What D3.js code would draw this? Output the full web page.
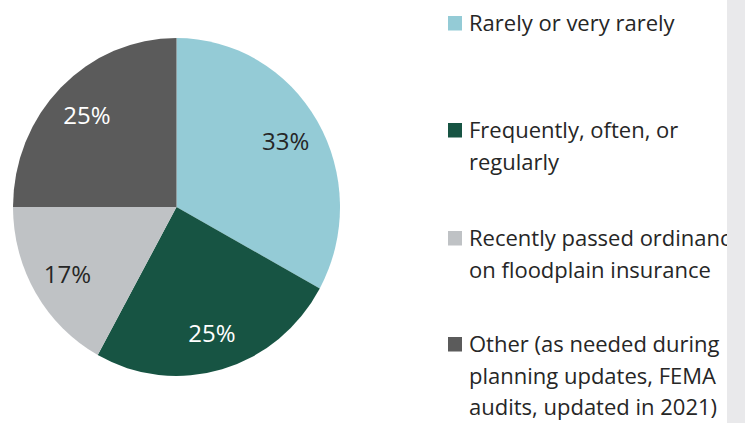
<!DOCTYPE html>
<html>
<head>
<meta charset="utf-8">
<script src="https://cdn.jsdelivr.net/npm/d3@7/dist/d3.min.js"></script>
<style>
  html, body { margin: 0; padding: 0; background: #fff; }
  svg { display: block; }
  text { font-family: "Open Sans", sans-serif; }
</style>
</head>
<body>
<svg id="chart" width="745" height="423"></svg>
<script>
// Survey responses: how often the floodplain ordinance is reviewed
const categories = [
  ["Rarely or very rarely"],
  ["Frequently, often, or", "regularly"],
  ["Recently passed ordinance", "on floodplain insurance"],
  ["Other (as needed during", "planning updates, FEMA", "audits, updated in 2021)"]
];
const shares = [33, 25, 17, 25];
const colors = ["#94cbd6", "#175443", "#bfc2c5", "#5b5b5b"];
const labelColors = ["#262626", "#ffffff", "#262626", "#ffffff"];

const svg = d3.select("#chart");
const W = 745, H = 423;

// Pie geometry (drawn slightly narrower than tall)
const cx = 176.5, cy = 207, R = 169, sx = 163.5 / 169;

const pie = d3.pie().sort(null).value(d => d);
const arcs = pie(shares);
const arc = d3.arc().innerRadius(0).outerRadius(R);
const labelArc = d3.arc().innerRadius(131).outerRadius(131);

const pieG = svg.append("g")
  .attr("transform", `translate(${cx},${cy}) scale(${sx},1)`);

pieG.selectAll("path")
  .data(arcs)
  .join("path")
  .attr("d", arc)
  .attr("fill", (d, i) => colors[i]);

// Percent labels (unscaled text, positioned on scaled centroids)
svg.append("g").selectAll("text")
  .data(arcs)
  .join("text")
  .attr("x", d => cx + labelArc.centroid(d)[0] * sx)
  .attr("y", d => cy + labelArc.centroid(d)[1])
  .attr("text-anchor", "middle")
  .attr("dominant-baseline", "central")
  .attr("font-size", 24)
  .attr("fill", (d, i) => labelColors[i])
  .text(d => d.data + "%");

// Legend
const legendTops = [31, 138, 246, 352];
const lineH = 31.5;
const legend = svg.append("g");
categories.forEach((lines, i) => {
  const base = legendTops[i];
  legend.append("rect")
    .attr("x", 448).attr("y", base - 15)
    .attr("width", 14).attr("height", 14.5)
    .attr("fill", colors[i]);
  const t = legend.append("text")
    .attr("font-size", 22)
    .attr("fill", "#262626");
  lines.forEach((ln, j) => {
    t.append("tspan")
      .attr("x", 469)
      .attr("y", base + j * lineH)
      .text(ln);
  });
});

// Grey side panel at the right edge
svg.append("rect")
  .attr("x", 727).attr("y", 0)
  .attr("width", W - 727).attr("height", H)
  .attr("fill", "#e9e9eb");
</script>
</body>
</html>
